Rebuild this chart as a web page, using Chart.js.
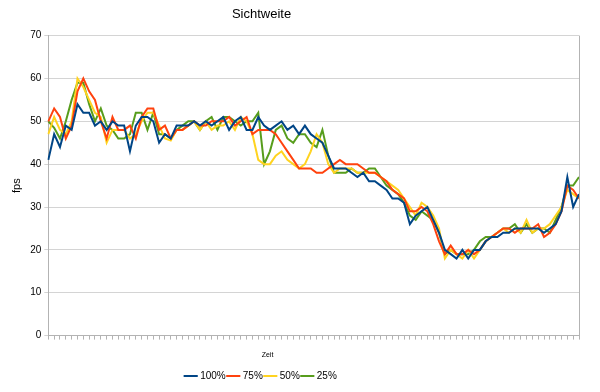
<!DOCTYPE html>
<html>
<head>
<meta charset="utf-8">
<script src="https://cdn.jsdelivr.net/npm/chart.js@4"></script>
<style>
  html, body { margin: 0; padding: 0; background: #fff; }
</style>
</head>
<body>
<canvas id="grafica" width="600" height="392"></canvas>
<script>
// Werte (fps je Messpunkt)
const fps100 = [41, 47, 44, 49, 48, 54, 52, 52, 49, 50, 48, 50, 49, 49, 43, 49, 51, 51, 50, 45,
  47, 46, 49, 49, 49, 50, 49, 50, 49, 50, 51, 48, 50, 51, 48, 48, 51, 49, 48, 49,
  50, 48, 49, 47, 49, 47, 46, 45, 42, 39, 39, 39, 38, 37, 38, 36, 36, 35, 34, 32,
  32, 31, 26, 28, 29, 30, 27, 24, 20, 19, 18, 20, 18, 20, 20, 22, 23, 23, 24, 24,
  25, 25, 25, 25, 25, 24, 25, 26, 29, 37, 30, 33];
const fps75 = [50, 53, 51, 46, 49, 57, 60, 57, 55, 50, 46, 51, 48, 48, 49, 46, 51, 53, 53, 48,
  49, 46, 48, 48, 49, 50, 49, 49, 50, 50, 50, 51, 49, 50, 51, 47, 48, 48, 48, 47,
  45, 43, 41, 39, 39, 39, 38, 38, 39, 40, 41, 40, 40, 40, 39, 38, 38, 37, 36, 34,
  33, 32, 29, 29, 30, 29, 26, 22, 19, 21, 19, 19, 20, 19, 20, 22, 23, 24, 25, 25,
  24, 25, 25, 25, 26, 23, 24, 26, 29, 35, 34, 32];
const fps50 = [47, 51, 48, 47, 50, 60, 58, 55, 52, 51, 45, 48, 48, 48, 46, 47, 50, 52, 52, 49,
  46, 45.5, 48, 48, 49, 50, 48, 50, 48, 49, 49, 50, 48, 51, 50, 47, 41, 40, 40, 42,
  43, 41, 40, 39, 40, 43, 47, 45, 40, 38, 39, 39, 39, 38, 38, 38, 38, 37, 36, 35,
  34, 32, 30, 28, 31, 30, 28, 25, 18, 20, 19, 18, 20, 18, 20, 22, 23, 24, 25, 24,
  25, 24, 27, 24, 25, 25, 26, 28, 30, 34, 33, 32];
const fps25 = [50, 48.5, 46, 50, 55, 59, 59, 54, 50, 53, 49, 48, 46, 46, 47, 52, 52, 48, 52, 47,
  47, 46, 48, 49, 50, 50, 48, 50, 51, 48, 51, 51, 50, 49, 50, 50, 52, 40, 43, 48,
  49, 46, 45, 47, 47, 45, 44, 48, 42, 38, 38, 38, 39, 38, 38, 39, 39, 37, 35, 34,
  33, 31, 28, 27, 29, 28, 27, 24, 19, 20, 19, 19, 19, 20, 22, 23, 23, 24, 25, 25,
  26, 24, 26, 24, 25, 25, 24, 27, 30, 35, 35, 37];
const zeit = fps100.map((_, i) => i + 1);
const serien = ["100%", "75%", "50%", "25%"];
const farben = ["#004586", "#ff420e", "#ffd320", "#579d1c"];

Chart.defaults.font.family = "'Liberation Sans', Arial, sans-serif";
Chart.defaults.color = "#000";

// rechte Rahmenlinie der Zeichenfläche
const rahmen = {
  id: "rahmen",
  afterDraw(chart) {
    const a = chart.chartArea;
    const c = chart.ctx;
    c.save();
    c.strokeStyle = "#b3b3b3";
    c.lineWidth = 1;
    c.beginPath();
    c.moveTo(Math.round(a.right) + 0.5, a.top);
    c.lineTo(Math.round(a.right) + 0.5, a.bottom);
    c.stroke();
    c.restore();
  },
};

// Titel, Achsentitel und Legende sitzen im Original links von der Mitte
const verschieben = {
  id: "verschieben",
  afterLayout(chart) {
    chart.boxes.forEach((box) => {
      let dx = 0;
      if (box === chart.titleBlock || box === chart.legend) dx = -31;
      else if (box.options && box.options.text === "Zeit") dx = -25;
      box.left += dx;
      box.right += dx;
    });
  },
};

const werte = [fps100, fps75, fps50, fps25];

new Chart(document.getElementById("grafica"), {
  type: "line",
  data: {
    labels: zeit,
    datasets: serien.map((name, i) => ({
      label: name,
      data: werte[i],
      borderColor: farben[i],
      backgroundColor: farben[i],
      borderWidth: 2,
      pointRadius: 0,
      tension: 0,
    })),
  },
  plugins: [rahmen, verschieben],
  options: {
    responsive: false,
    animation: false,
    devicePixelRatio: 1,
    layout: { padding: { left: 6, right: 21, top: 0, bottom: 1 } },
    plugins: {
      title: {
        display: true,
        text: "Sichtweite",
        font: { size: 13, weight: "normal" },
        color: "#000",
        padding: { top: 7, bottom: 13 },
      },
      subtitle: {
        display: true,
        position: "bottom",
        weight: 500,
        text: "Zeit",
        font: { size: 7, weight: "normal" },
        color: "#000",
        padding: { top: 11, bottom: 9 },
      },
      legend: {
        position: "bottom",
        labels: {
          usePointStyle: true,
          pointStyle: "line",
          boxWidth: 9,
          font: { size: 10 },
          color: "#000",
          padding: 3,
        },
      },
      tooltip: { enabled: false },
    },
    scales: {
      x: {
        grid: { drawOnChartArea: false, tickLength: 4, color: "#b3b3b3" },
        border: { color: "#b3b3b3" },
        ticks: { display: false, autoSkip: false },
      },
      y: {
        min: 0,
        max: 70,
        ticks: { stepSize: 10, font: { size: 10 }, color: "#000", padding: 3 },
        grid: { color: "#d4d4d4", tickLength: 4 },
        border: { color: "#b3b3b3" },
        title: { display: true, text: "fps", font: { size: 11 }, color: "#000" },
      },
    },
  },
});
</script>
</body>
</html>
